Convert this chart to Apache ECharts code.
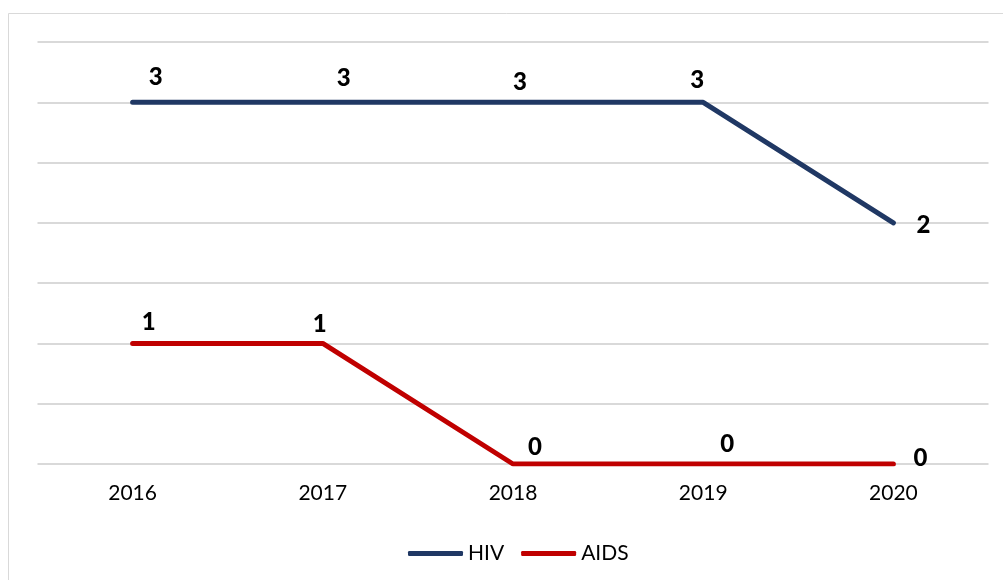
<!DOCTYPE html>
<html>
<head>
<meta charset="utf-8">
<script src="https://cdn.jsdelivr.net/npm/echarts@6/dist/echarts.min.js"></script>
<style>
html,body{margin:0;padding:0;background:#fff;}
#chart{width:1003px;height:580px;}
</style>
</head>
<body>
<div id="chart"></div>
<script>
const categories = ['2016', '2017', '2018', '2019', '2020'];
const hivValues = [3, 3, 3, 3, 2];
const aidsValues = [1, 1, 0, 0, 0];

// label placement (style only)
const hivLabelOffsets = [[23, -25], [21, -24], [7, -20], [-6, -22], [30, 2]];
const aidsLabelOffsets = [[16, -21], [-3, -19], [22, -17], [24, -20], [27, -6]];

function buildData(values, offsets) {
  return values.map((v, i) => ({
    value: v,
    label: { offset: offsets[i] }
  }));
}

const labelStyle = {
  show: true,
  position: 'inside',
  fontFamily: 'Lato',
  fontWeight: 900,
  fontSize: 24,
  color: '#000'
};

const chart = echarts.init(document.getElementById('chart'), null, { renderer: 'canvas' });
chart.setOption({
  animation: false,
  backgroundColor: '#fff',
  graphic: [{
    type: 'rect',
    shape: { x: 8.5, y: 13.5, width: 1100, height: 700 },
    style: { fill: 'none', stroke: '#d9d9d9', lineWidth: 1 },
    silent: true,
    z: -1
  }],
  grid: { left: 37.5, right: 14.5, top: 42, height: 422, containLabel: false },
  legend: {
    left: 403,
    top: 538,
    itemWidth: 55,
    itemHeight: 5,
    itemGap: 17,
    icon: 'roundRect',
    textStyle: { fontFamily: 'Lato', fontSize: 21, color: '#000' },
    data: ['HIV', 'AIDS']
  },
  xAxis: {
    type: 'category',
    data: categories,
    boundaryGap: true,
    axisLine: { show: false },
    axisTick: { show: false },
    axisLabel: { fontFamily: 'Lato', fontSize: 21, color: '#000', margin: 19 }
  },
  yAxis: {
    type: 'value',
    min: 0,
    max: 3.5,
    interval: 0.5,
    axisLabel: { show: false },
    axisLine: { show: false },
    axisTick: { show: false },
    splitLine: { lineStyle: { color: '#d9d9d9', width: 2 } }
  },
  series: [
    {
      name: 'HIV',
      type: 'line',
      data: buildData(hivValues, hivLabelOffsets),
      symbol: 'circle',
      symbolSize: 0.1,
      showSymbol: true,
      lineStyle: { color: '#203864', width: 5, cap: 'round', join: 'round' },
      itemStyle: { color: '#203864' },
      label: labelStyle
    },
    {
      name: 'AIDS',
      type: 'line',
      data: buildData(aidsValues, aidsLabelOffsets),
      symbol: 'circle',
      symbolSize: 0.1,
      showSymbol: true,
      lineStyle: { color: '#C00000', width: 5, cap: 'round', join: 'round' },
      itemStyle: { color: '#C00000' },
      label: labelStyle
    }
  ]
});
</script>
</body>
</html>
